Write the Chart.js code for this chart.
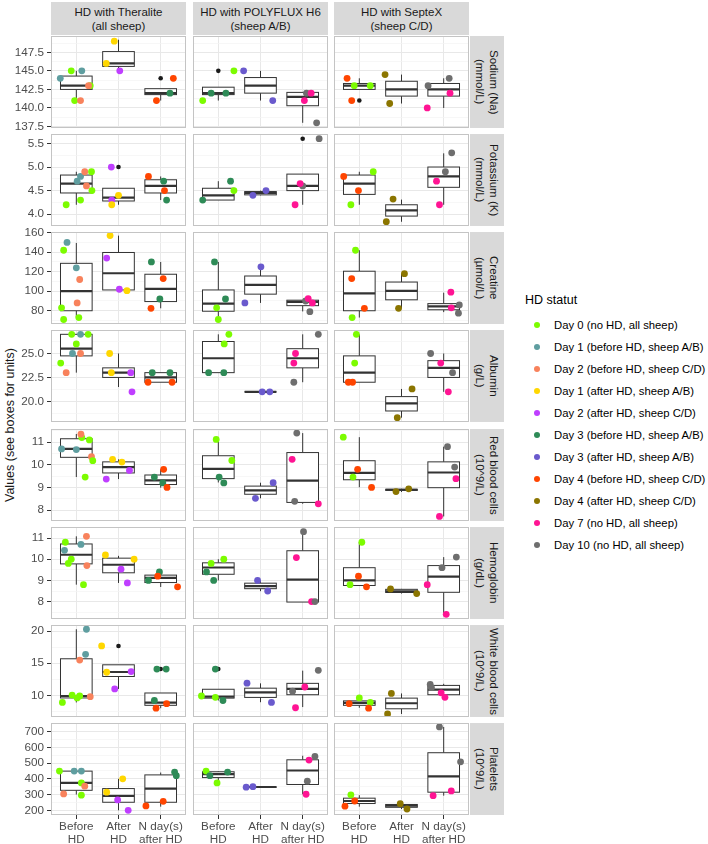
<!DOCTYPE html>
<html>
<head>
<meta charset="utf-8">
<title>HD statut boxplots</title>
<script src="https://cdn.jsdelivr.net/npm/chart.js@4.4.1/dist/chart.umd.min.js"></script>
<style>
  body { margin: 0; background: #fff; font-family: "Liberation Sans", Arial, sans-serif; }
  #wrap { position: relative; width: 708px; height: 844px; overflow: hidden; background: #fff; }
  .strip { position: absolute; background: #d9d9d9; color: #1a1a1a; font-size: 11.5px; line-height: 14px;
           display: flex; align-items: center; justify-content: center; text-align: center; }
  .strip.side { writing-mode: vertical-rl; }
  #ytitle { position: absolute; left: 10px; top: 425px; transform: translate(-50%, -50%) rotate(-90deg);
            white-space: nowrap; font-size: 12.5px; color: #1a1a1a; }
  #legend { position: absolute; left: 525px; top: 290px; color: #000; }
  #legend .title { font-size: 12.5px; height: 24px; line-height: 20px; }
  #legend .item { position: relative; height: 22px; line-height: 22px; font-size: 11.3px; padding-left: 29px; white-space: nowrap; }
  #legend .dot { position: absolute; left: 9px; top: 8px; width: 6px; height: 6px; border-radius: 50%; }
</style>
</head>
<body>
<div id="wrap">
  <div id="ytitle">Values (see boxes for units)</div>
  <div id="legend"><div class="title">HD statut</div></div>
</div>
<script>
// facets
const columnLabels = [['HD with Theralite', '(all sheep)'], ['HD with POLYFLUX H6', '(sheep A/B)'], ['HD with SepteX', '(sheep C/D)']];
const rowLabels = [
  ['Sodium (Na)', '(mmol/L)'], ['Potassium (K)', '(mmol/L)'], ['Creatine', '(µmol/L)'], ['Albumin', '(g/L)'],
  ['Red blood cells', '(10^9/L)'], ['Hemoglobin', '(g/dL)'], ['White blood cells', '(10^9/L)'], ['Platelets', '(10^9/L)']
];
const xLabels = [['Before', 'HD'], ['After', 'HD'], ['N day(s)', 'after HD']];

// HD status (legend)
const statusLabels = [
  'Day 0 (no HD, all sheep)', 'Day 1 (before HD, sheep A/B)', 'Day 2 (before HD, sheep C/D)',
  'Day 1 (after HD, sheep A/B)', 'Day 2 (after HD, sheep C/D)', 'Day 3 (before HD, sheep A/B)',
  'Day 3 (after HD, sheep A/B)', 'Day 4 (before HD, sheep C/D)', 'Day 4 (after HD, sheep C/D)',
  'Day 7 (no HD, all sheep)', 'Day 10 (no HD, all sheep)'
];
const statusColors = ['#7cfc00', '#5f9ea0', '#f8825c', '#ffd700', '#bf3eff', '#2e8b57',
                      '#6a5acd', '#ff4500', '#8b7500', '#ff1493', '#6e6e6e'];

// y axes
const yLimits = [[137.3, 149.7], [3.75, 5.7], [66.4, 160.7], [17.85, 27.45], [7.52, 11.58], [7.18, 11.52], [6.63, 20.96], [170, 755]];
const yTickLabels = [
  ['137.5', '140.0', '142.5', '145.0', '147.5'], ['4.0', '4.5', '5.0', '5.5'], ['80', '100', '120', '140', '160'],
  ['20.0', '22.5', '25.0'], ['8', '9', '10', '11'], ['8', '9', '10', '11'], ['10', '15', '20'],
  ['200', '300', '400', '500', '600', '700']
];

// boxes: [lower whisker, q1, median, q3, upper whisker], 3 groups per column, columns in order
const naBoxes = [[141, 142.5, 143, 144.3, 145], [145, 145.6, 146, 147.6, 149.2], [141, 141.8, 142, 142.6, 142.6],
                 [141, 141.8, 142, 142.8, 142.8], [141, 142, 143, 144.1, 145], [138, 140.3, 141.5, 142.1, 142.1],
                 [142.5, 142.5, 143, 143.3, 144], [140.6, 141.6, 142.5, 143.6, 144.5], [140, 141.6, 142.5, 143.3, 144]];
const kBoxes = [[4.2, 4.45, 4.65, 4.83, 4.9], [4.2, 4.28, 4.35, 4.55, 4.55], [4.3, 4.45, 4.6, 4.73, 4.8],
                [4.3, 4.3, 4.4, 4.55, 4.7], [4.4, 4.41, 4.45, 4.48, 4.5], [4.2, 4.5, 4.6, 4.85, 4.85],
                [4.2, 4.42, 4.65, 4.83, 4.9], [3.84, 3.96, 4.08, 4.2, 4.31], [4.2, 4.57, 4.8, 5.0, 5.29]];
const crBoxes = [[73, 80, 100, 128.6, 149.5], [101, 101.3, 118.4, 139.7, 157], [82.5, 89.4, 102.4, 117.4, 130],
                 [71, 79.5, 87.3, 101.3, 130], [88, 97, 106.6, 115.6, 124.7], [79.3, 85.2, 89, 90.8, 90.8],
                 [73, 80, 97.8, 120.5, 142], [82.5, 91.2, 100.3, 109.4, 118], [78.6, 81, 84.5, 87.3, 98.5]];
const albBoxes = [[23, 24.75, 25.5, 27, 27], [21.5, 22.5, 23, 23.5, 25], [22, 22, 22.5, 23, 23],
                  [23, 23, 24.5, 26.25, 27], [21, 21, 21, 21, 21], [22, 23.5, 24.5, 25.5, 27],
                  [22, 22, 23, 24.75, 27], [18.3, 19, 19.8, 20.5, 21.3], [21, 22.5, 23.5, 24.25, 25]];
const rbcBoxes = [[9.46, 10.33, 10.7, 11.15, 11.36], [9.37, 9.64, 9.9, 10.13, 10.24], [8.99, 9.13, 9.31, 9.55, 9.8],
                  [9.22, 9.39, 9.82, 10.4, 11.12], [8.52, 8.7, 8.87, 9.06, 9.21], [8.28, 8.34, 9.3, 10.54, 11.4],
                  [9.01, 9.34, 9.64, 10.18, 11.22], [8.8, 8.87, 8.9, 8.92, 8.94], [7.72, 8.99, 9.66, 10.13, 10.8]];
const hbBoxes = [[8.8, 9.78, 10.21, 10.72, 11.08], [8.88, 9.36, 9.74, 10.05, 10.16], [8.69, 8.9, 9.12, 9.25, 9.4],
                 [9.0, 9.29, 9.61, 9.83, 10.0], [8.49, 8.61, 8.73, 8.87, 9.0], [7.98, 7.98, 9.04, 10.4, 11.32],
                 [8.76, 8.76, 9.0, 9.6, 10.8], [8.38, 8.43, 8.49, 8.58, 8.6], [7.4, 8.44, 9.18, 9.7, 10.1]];
const wbcBoxes = [[8.9, 9.6, 9.9, 15.7, 20.3], [11.0, 12.94, 13.64, 14.76, 14.76], [8.0, 8.45, 8.88, 10.37, 10.37],
                  [9.2, 9.57, 9.8, 10.95, 10.95], [8.93, 9.68, 10.48, 11.12, 11.87], [8.18, 10.1, 11.02, 11.87, 13.85],
                  [8.07, 8.45, 8.82, 9.14, 9.57], [7.1, 7.91, 8.77, 9.57, 10.3], [9.7, 10.1, 10.9, 11.55, 11.8]];
const pltBoxes = [[300, 327, 374, 449, 449], [200, 251, 291, 338, 400], [223, 251, 338, 425, 440],
                  [374, 408, 430, 445, 449], [347, 347, 348, 348, 350], [302, 364, 453, 521, 547],
                  [223, 243, 259, 277, 296], [208, 219, 230, 237, 242], [293, 315, 415, 566, 730]];

// points: [column, group, jitter, value, status]
const naPoints = [
  [0,0,-0.38,144,1],[0,0,-0.12,145,0],[0,0,0.13,145,1],[0,0,0.33,143,0],[0,0,0.29,143,2],[0,0,-0.04,141,0],[0,0,0.1,141,2],
  [0,1,-0.1,149,3],[0,1,-0.29,146,3],[0,1,0.03,145,4],
  [0,2,0.3,144,7],[0,2,-0.1,141,7],[0,2,0.22,142,5],
  [1,0,-0.37,141,0],[1,0,-0.17,142,5],[1,0,0.18,142,5],[1,0,0.37,145,0],
  [1,1,-0.4,145,6],[1,1,0.29,141,6],
  [1,2,0.09,142,10],[1,2,0.2,142,9],[1,2,0.04,141,9],[1,2,0.33,138,10],
  [2,0,-0.29,144,7],[2,0,-0.12,143,0],[2,0,0.26,143,0],[2,0,-0.18,141,7],
  [2,1,-0.39,144.5,8],[2,1,-0.28,140.6,8],
  [2,2,-0.37,143,10],[2,2,0.13,144,10],[2,2,0.15,142,9],[2,2,-0.39,140,9]
];
const kPoints = [
  [0,0,-0.24,4.2,0],[0,0,0.02,4.7,1],[0,0,0.1,4.8,1],[0,0,0.2,4.9,2],[0,0,0.36,4.9,0],[0,0,0.24,4.6,2],[0,0,0.37,4.5,0],[0,0,0.1,4.3,0],
  [0,1,-0.17,5.0,4],[0,1,0,4.4,3],[0,1,-0.16,4.3,4],[0,1,-0.16,4.2,3],
  [0,2,-0.29,4.8,7],[0,2,0.07,4.7,5],[0,2,0.09,4.5,7],[0,2,0.14,4.3,5],
  [1,0,-0.37,4.3,5],[1,0,0.29,4.7,5],[1,0,0.37,4.5,0],
  [1,1,-0.18,4.4,6],[1,1,0.13,4.5,6],
  [1,2,0.39,5.6,10],[1,2,0,4.6,10],[1,2,-0.06,4.65,9],[1,2,-0.18,4.2,9],
  [2,0,-0.37,4.8,7],[2,0,0.33,4.9,0],[2,0,-0.02,4.5,7],[2,0,-0.2,4.2,0],
  [2,1,-0.2,4.32,8],[2,1,-0.36,3.84,8],
  [2,2,0.19,5.3,10],[2,2,0.04,4.9,10],[2,2,-0.17,4.7,9],[2,2,-0.1,4.2,9]
];
const crPoints = [
  [0,0,-0.22,150,1],[0,0,-0.3,142,0],[0,0,0,124,1],[0,0,0.08,112,2],[0,0,0.02,88,2],[0,0,-0.35,83,0],[0,0,-0.3,71,0],[0,0,0.06,73,0],
  [0,1,-0.2,157,3],[0,1,-0.28,134,4],[0,1,0.02,102,4],[0,1,0.2,100.6,3],
  [0,2,-0.22,130,5],[0,2,0.06,113,7],[0,2,-0.02,92,5],[0,2,-0.23,82.5,7],
  [1,0,-0.09,130,5],[1,0,0.17,92,5],[1,0,-0.04,83,0],[1,0,0,71,0],
  [1,1,-0.37,88,6],[1,1,0.01,125,6],
  [1,2,0.07,90,10],[1,2,0.13,92.5,9],[1,2,0.23,88,9],[1,2,0.17,79,10],
  [2,0,-0.09,142,0],[2,0,-0.18,113,7],[2,0,0.12,82.5,7],[2,0,-0.17,73,0],
  [2,1,0.07,118,8],[2,1,-0.07,82.5,8],
  [2,2,0.17,99,9],[2,2,0.18,83,9],[2,2,0.37,86,10],[2,2,0.35,77.5,10]
];
const albPoints = [
  [0,0,-0.11,27,0],[0,0,0.1,27,1],[0,0,0.28,27,0],[0,0,0,26,0],[0,0,-0.09,25,1],[0,0,0.1,25,2],[0,0,-0.37,24,0],[0,0,-0.24,23,2],
  [0,1,-0.21,25,3],[0,1,-0.17,23,3],[0,1,0.29,23,4],[0,1,0.32,21,4],
  [0,2,-0.2,23,5],[0,2,0.22,23,5],[0,2,-0.3,22,7],[0,2,0.27,22,7],
  [1,0,0.25,27,0],[1,0,0.14,26,0],[1,0,-0.23,23,5],[1,0,0.13,23,5],
  [1,1,0.04,21,6],[1,1,0.22,21,6],
  [1,2,0.37,27,10],[1,2,-0.17,25,9],[1,2,-0.21,24,9],[1,2,-0.21,22,10],
  [2,0,-0.07,27,0],[2,0,-0.11,24,0],[2,0,-0.26,22,7],[2,0,-0.16,22,7],
  [2,1,0.25,21.3,8],[2,1,-0.1,18.3,8],
  [2,2,-0.31,25,10],[2,2,-0.07,24,9],[2,2,0.21,23,10],[2,2,0.11,21,9]
];
const rbcPoints = [
  [0,0,0.13,11.2,0],[0,0,0.11,11.35,2],[0,0,0.31,11.1,0],[0,0,-0.35,10.7,1],[0,0,0,10.67,1],[0,0,0.36,10.36,2],[0,0,0.39,10.18,0],[0,0,0.21,9.46,0],
  [0,1,-0.14,10.24,3],[0,1,0.08,10.12,3],[0,1,0.26,9.75,4],[0,1,-0.29,9.37,4],
  [0,2,0.07,9.8,7],[0,2,-0.15,9.46,5],[0,2,0.05,9.2,5],[0,2,0.15,9.0,7],
  [1,0,-0.05,11.12,0],[1,0,0.32,10.19,0],[1,0,0.02,9.46,5],[1,0,0.13,9.2,5],
  [1,1,0.3,9.21,6],[1,1,-0.12,8.52,6],
  [1,2,-0.14,11.4,10],[1,2,-0.25,10.24,9],[1,2,-0.19,8.39,10],[1,2,0.37,8.28,9],
  [2,0,-0.38,11.22,0],[2,0,-0.04,9.8,7],[2,0,-0.15,9.46,0],[2,0,0.29,9.0,7],
  [2,1,-0.13,8.82,8],[2,1,0.17,8.94,8],
  [2,2,0.09,10.8,10],[2,2,0.26,9.9,10],[2,2,0.29,9.39,9],[2,2,-0.1,7.72,9]
];
const hbPoints = [
  [0,0,0.24,11.08,2],[0,0,-0.26,10.8,0],[0,0,0.11,10.7,1],[0,0,-0.28,10.42,1],[0,0,-0.12,10.0,0],[0,0,-0.19,9.8,0],[0,0,0.25,9.7,2],[0,0,0.17,8.8,0],
  [0,1,-0.31,10.2,3],[0,1,0.37,10.0,3],[0,1,0.06,9.53,4],[0,1,0.21,8.88,4],
  [0,2,-0.03,9.4,5],[0,2,-0.07,9.2,7],[0,2,-0.29,9.0,5],[0,2,0.4,8.7,7],
  [1,0,0.13,10.0,0],[1,0,-0.17,9.8,0],[1,0,-0.28,9.4,5],[1,0,-0.11,9.0,5],
  [1,1,-0.07,9.0,6],[1,1,0.17,8.5,6],
  [1,2,0.02,11.3,10],[1,2,-0.15,10.08,9],[1,2,0.21,8.0,9],[1,2,0.29,8.0,10],
  [2,0,0.06,10.8,0],[2,0,-0.02,9.2,7],[2,0,-0.22,8.8,0],[2,0,0.17,8.7,7],
  [2,1,-0.26,8.6,8],[2,1,0.36,8.38,8],
  [2,2,0.3,10.1,10],[2,2,-0.04,9.6,10],[2,2,-0.39,8.8,9],[2,2,0.06,7.4,9]
];
const wbcPoints = [
  [0,0,0.24,20.3,1],[0,0,0.22,16.4,1],[0,0,0.08,15.5,2],[0,0,-0.1,10.05,0],[0,0,0.02,9.6,0],[0,0,-0.33,8.9,0],[0,0,0.33,9.8,2],[0,0,0.08,9.9,0],
  [0,1,-0.4,17.7,3],[0,1,-0.28,13.6,3],[0,1,0.3,13.7,4],[0,1,-0.09,11.0,4],
  [0,2,-0.09,14.1,5],[0,2,0.13,14.1,5],[0,2,-0.15,9.2,5],[0,2,-0.11,8.0,7],[0,2,0.14,8.7,7],
  [1,0,-0.07,14.1,5],[1,0,-0.4,9.9,0],[1,0,-0.07,9.7,0],[1,0,0.11,9.2,5],
  [1,1,-0.32,11.9,6],[1,1,0.26,8.9,6],
  [1,2,0.37,13.9,10],[1,2,-0.24,10.64,10],[1,2,0.05,11.3,9],[1,2,-0.17,8.07,9],
  [2,0,0,9.6,0],[2,0,-0.24,8.7,7],[2,0,0.26,8.9,0],[2,0,0.22,8.0,7],
  [2,1,-0.24,10.3,8],[2,1,-0.33,7.1,8],
  [2,2,-0.32,11.7,10],[2,2,-0.29,11.2,10],[2,2,-0.06,10.4,9],[2,2,0.03,9.7,9]
];
const pltPoints = [
  [0,0,-0.4,449,0],[0,0,-0.05,449,1],[0,0,0.12,449,1],[0,0,0.12,374,0],[0,0,0.2,353,2],[0,0,-0.3,304,2],[0,0,0.12,296,0],
  [0,1,0.1,400,3],[0,1,-0.28,315,3],[0,1,-0.02,266,4],[0,1,0.23,200,4],
  [0,2,0.33,443,5],[0,2,0.37,420,5],[0,2,-0.35,228,7],[0,2,0.06,257,7],
  [1,0,-0.29,449,0],[1,0,0.22,443,5],[1,0,-0.2,420,5],[1,0,-0.03,374,0],
  [1,1,-0.34,347,6],[1,1,-0.18,350,6],
  [1,2,0.29,542,10],[1,2,0.15,519,9],[1,2,0.11,385,10],[1,2,0.08,302,9],
  [2,0,-0.2,298,0],[2,0,-0.11,259,7],[2,0,-0.34,226,7],
  [2,1,-0.03,242,8],[2,1,0.13,208,8],
  [2,2,-0.1,730,10],[2,2,0.4,508,10],[2,2,0.18,323,9],[2,2,-0.25,293,9]
];

// boxplot outliers: [row, column, group, value]
const outliers = [[0,0,2,144],[0,1,0,145],[0,2,0,141],[1,0,1,5.0],[1,1,2,5.6],[6,0,1,17.7],[6,0,2,14.1],[6,1,0,14.1]];

const allBoxes = [naBoxes, kBoxes, crBoxes, albBoxes, rbcBoxes, hbBoxes, wbcBoxes, pltBoxes];
const allPoints = [naPoints, kPoints, crPoints, albPoints, rbcPoints, hbPoints, wbcPoints, pltPoints];

// layout
const colLeft = [51, 193, 334];
const PW = 135, PH = 92, YW = 37, XH = 29, PAD = 8;
const rowTop = rowLabels.map((_, i) => Math.round(36 + i * 98.15));
const FONT = '"Liberation Sans", Arial, sans-serif';
const wrap = document.getElementById('wrap');

// strips
columnLabels.forEach((lab, c) => {
  const d = document.createElement('div');
  d.className = 'strip';
  d.style.cssText = `left:${colLeft[c]}px;top:2px;width:${PW}px;height:33px;`;
  d.innerHTML = lab.join('<br>');
  wrap.appendChild(d);
});
rowLabels.forEach((lab, r) => {
  const d = document.createElement('div');
  d.className = 'strip side';
  d.style.cssText = `left:470px;top:${rowTop[r]}px;width:34px;height:${PH}px;`;
  d.innerHTML = lab.join('<br>');
  wrap.appendChild(d);
});

// legend
const legend = document.getElementById('legend');
statusLabels.forEach((s, i) => {
  const it = document.createElement('div');
  it.className = 'item';
  it.innerHTML = `<span class="dot" style="background:${statusColors[i]}"></span>${s}`;
  legend.appendChild(it);
});

function drawBoxes(chart, stats) {
  const { ctx, chartArea: a, scales: { x, y } } = chart;
  ctx.save();
  ctx.beginPath();
  ctx.rect(a.left, a.top, a.width, a.height);
  ctx.clip();
  ctx.strokeStyle = '#333333';
  stats.forEach((s, i) => {
    const cx = x.getPixelForValue(i + 1);
    const hw = x.getPixelForValue(i + 1.375) - cx;
    const [lo, q1, md, q3, hi] = s.map(v => y.getPixelForValue(v));
    ctx.lineWidth = 1;
    ctx.beginPath();
    ctx.moveTo(cx, hi); ctx.lineTo(cx, q3);
    ctx.moveTo(cx, q1); ctx.lineTo(cx, lo);
    ctx.stroke();
    ctx.fillStyle = '#ffffff';
    ctx.fillRect(cx - hw, q3, 2 * hw, q1 - q3);
    ctx.strokeRect(cx - hw, q3, 2 * hw, q1 - q3);
    ctx.lineWidth = 2.2;
    ctx.beginPath();
    ctx.moveTo(cx - hw, md); ctx.lineTo(cx + hw, md);
    ctx.stroke();
  });
  ctx.restore();
}

function panel(r, c) {
  const first = c === 0, last = r === rowLabels.length - 1;
  const w = PW + (first ? YW : 0);
  const h = PAD + PH + (last ? XH : PAD);
  const cv = document.createElement('canvas');
  cv.width = w; cv.height = h;
  cv.style.cssText = `position:absolute;left:${colLeft[c] - (first ? YW : 0)}px;top:${rowTop[r] - PAD}px;width:${w}px;height:${h}px;`;
  wrap.appendChild(cv);

  const majors = yTickLabels[r].map(parseFloat);
  const step = majors[1] - majors[0];
  const [ymin, ymax] = yLimits[r];
  const minors = [];
  for (let k = -1; k < majors.length; k++) {
    const v = majors[0] + (k + 0.5) * step;
    if (v > ymin && v < ymax) minors.push(v);
  }
  const isMajor = v => majors.some(m => Math.abs(m - v) < 1e-6);
  const stats = allBoxes[r].slice(c * 3, c * 3 + 3);
  const pts = allPoints[r].filter(p => p[0] === c);
  const outs = outliers.filter(o => o[0] === r && o[1] === c);

  new Chart(cv, {
    type: 'scatter',
    data: {
      datasets: [
        {
          data: pts.map(p => ({ x: p[1] + 1 + p[2], y: p[3] })),
          pointBackgroundColor: pts.map(p => statusColors[p[4]]),
          pointBorderWidth: 0,
          pointRadius: 3.4,
          clip: 0,
          order: 0
        },
        {
          data: outs.map(o => ({ x: o[2] + 1, y: o[3] })),
          pointBackgroundColor: '#1a1a1a',
          pointBorderWidth: 0,
          pointRadius: 2.3,
          clip: 0,
          order: 1
        }
      ]
    },
    options: {
      responsive: false,
      animation: false,
      events: [],
      layout: { padding: { top: PAD, bottom: last ? 0 : PAD, left: 0, right: 0 }, autoPadding: false },
      plugins: { legend: { display: false }, tooltip: { enabled: false } },
      scales: {
        x: {
          type: 'linear', min: 0.4, max: 3.6,
          afterBuildTicks: s => { s.ticks = [1, 2, 3].map(v => ({ value: v })); },
          afterFit: s => { s.height = last ? XH : 0; s.paddingLeft = 0; s.paddingRight = 0; },
          border: { display: false },
          grid: { color: '#e8e8e8', lineWidth: 1, drawTicks: last, tickLength: 4, tickColor: '#333333' },
          ticks: {
            display: last, autoSkip: false, maxRotation: 0, padding: 1,
            color: '#4d4d4d', font: { family: FONT, size: 11.7, lineHeight: 1.1 },
            callback: v => xLabels[Math.round(v) - 1]
          }
        },
        y: {
          type: 'linear', min: ymin, max: ymax,
          afterBuildTicks: s => { s.ticks = majors.concat(minors).sort((a, b) => a - b).map(v => ({ value: v })); },
          afterFit: s => { s.width = first ? YW : 0; s.paddingTop = 0; s.paddingBottom = 0; },
          border: { display: false },
          grid: {
            color: ctx => (ctx.tick && isMajor(ctx.tick.value)) ? '#e8e8e8' : '#f4f4f4',
            lineWidth: ctx => (ctx.tick && isMajor(ctx.tick.value)) ? 1 : 0.7,
            drawTicks: first, tickLength: 4,
            tickColor: ctx => (ctx.tick && isMajor(ctx.tick.value)) ? '#333333' : 'rgba(0,0,0,0)'
          },
          ticks: {
            display: first, autoSkip: false, padding: 3,
            color: '#4d4d4d', font: { family: FONT, size: 11.7 },
            callback: v => {
              const i = majors.findIndex(m => Math.abs(m - v) < 1e-6);
              return i < 0 ? '' : yTickLabels[r][i];
            }
          }
        }
      }
    },
    plugins: [{
      id: 'boxes',
      beforeDatasetsDraw: chart => drawBoxes(chart, stats),
      afterDraw: chart => {
        const { ctx, chartArea: a } = chart;
        ctx.save();
        ctx.strokeStyle = '#c4c4c4';
        ctx.lineWidth = 1;
        ctx.strokeRect(a.left + 0.5, a.top + 0.5, a.width - 1, a.height - 1);
        ctx.restore();
      }
    }]
  });
}

rowLabels.forEach((_, r) => columnLabels.forEach((_, c) => panel(r, c)));
</script>
</body>
</html>
